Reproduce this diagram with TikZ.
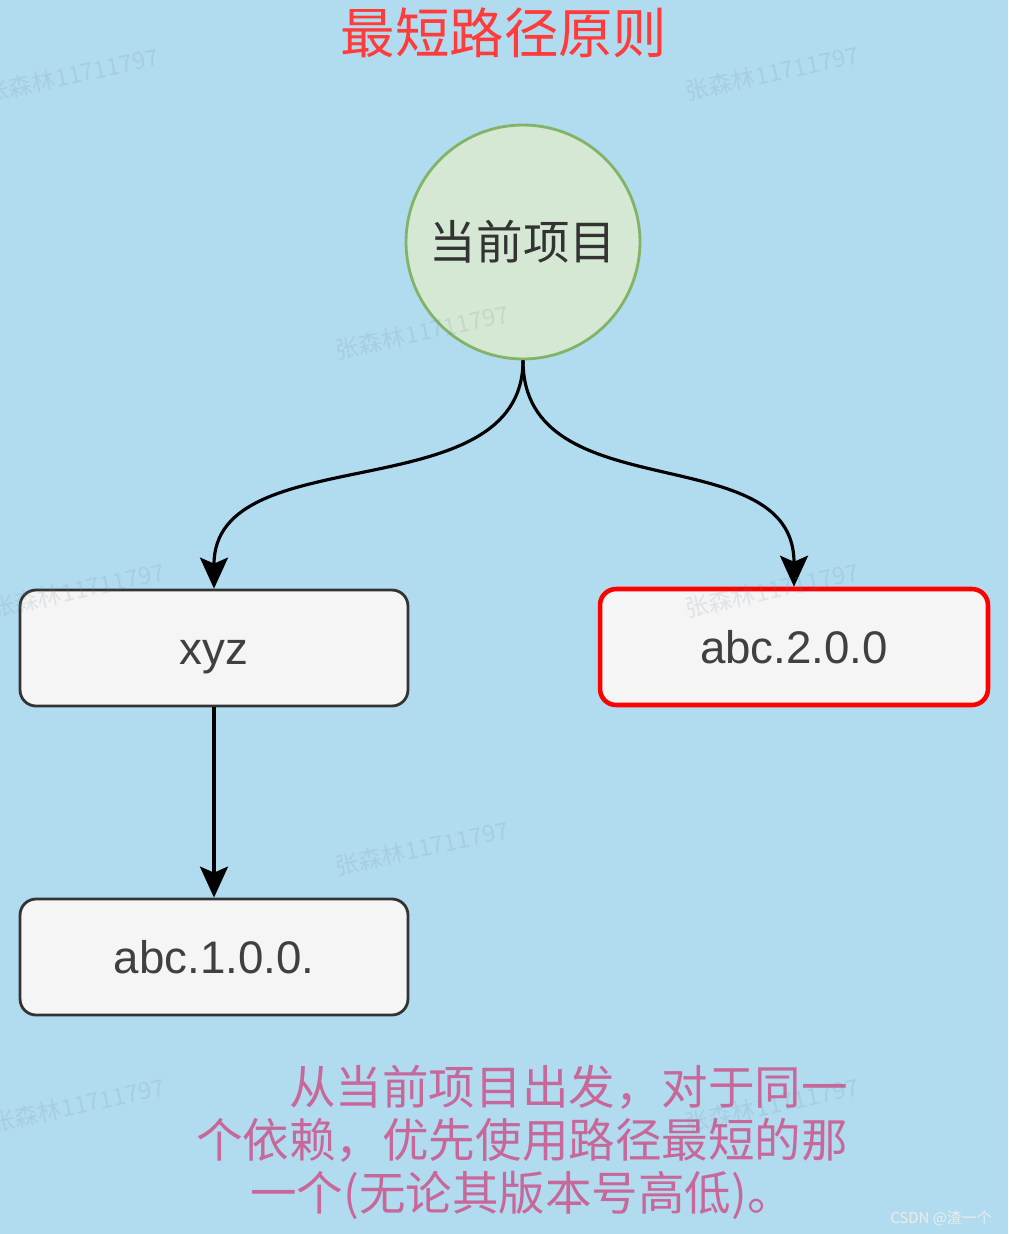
\documentclass[tikz,border=0pt]{standalone}
\usepackage{fontspec}
\setmainfont{Liberation Sans}
\newfontfamily\cjk{Noto Sans CJK SC}
\usetikzlibrary{arrows.meta, positioning}

\definecolor{bgblue}{HTML}{B1DCEF}
\definecolor{markgray}{HTML}{6A8796}
\definecolor{titlered}{HTML}{FF3B3B}
\definecolor{nodegreen}{HTML}{D5E8D4}
\definecolor{edgegreen}{HTML}{82B366}
\definecolor{boxgray}{HTML}{F5F5F5}
\definecolor{notepink}{HTML}{C8689A}

\begin{document}
\begin{tikzpicture}[
    x=0.02cm, y=-0.02cm,
    project/.style={
        circle,
        draw=edgegreen,
        fill=nodegreen,
        line width=1.6pt,
        minimum size=4.68cm,
        text=black!80,
        font=\cjk\fontsize{26.5}{31}\selectfont
    },
    depbox/.style={
        rectangle,
        rounded corners=0.32cm,
        draw=black!80,
        fill=boxgray,
        line width=1.6pt,
        minimum width=7.76cm,
        minimum height=2.32cm,
        text height=18.7pt,
        text depth=0pt,
        text=black!75,
        font=\fontsize{26}{31}\selectfont
    },
    chosen/.style={
        depbox,
        draw=red,
        line width=2.6pt
    },
    arrow/.style={
        -{Stealth[length=0.62cm, width=0.56cm, inset=0.12cm]},
        line width=1.8pt,
        black
    },
    watermark/.style={
        text=markgray,
        text opacity=0.16,
        rotate=12,
        font=\cjk\fontsize{13.5}{16}\selectfont
    }
]

% background and fixed frame
\fill[bgblue] (0,0) rectangle (1008,1234);
\useasboundingbox (0,0) rectangle (1008,1234);

% title
\node[text=titlered, font=\cjk\fontsize{31}{36}\selectfont] (title) at (504,33) {最短路径原则};

% the current project
\node[project] (current) at (523,242) {当前项目};

% dependencies
\node[depbox] (xyz) at (214,648) {xyz};
\node[chosen] (abc2) at (794,647) {abc.2.0.0};
\node[depbox] (abc1) at (214,957) {abc.1.0.0.};

% arrows between the nodes
\draw[arrow] (current.south) .. controls (523,512) and (214,436) .. (xyz.north);
\draw[arrow] (current.south) .. controls (523,512) and (794,436) .. (abc2.north);
\draw[arrow] (xyz) -- (abc1);

% explanation
\node[text=notepink, align=center, font=\cjk\fontsize{26.5}{30.2}\selectfont] (note) at (522,1142) {
    \hspace{2em}从当前项目出发，对于同一\\
    个依赖，优先使用路径最短的那\\
    一个(无论其版本号高低)。
};

% source label
\node[text=white!85!gray, font=\cjk\fontsize{8.5}{10}\selectfont] (source) at (941,1218) {CSDN @渣一个};

% faint watermarks on top
\foreach \wx/\wy in {72/75, 772/73, 422/332, 78/590, 772/590, 422/848, 78/1105, 772/1105}
    \node[watermark] at (\wx,\wy) {张森林11711797};

\end{tikzpicture}
\end{document}
